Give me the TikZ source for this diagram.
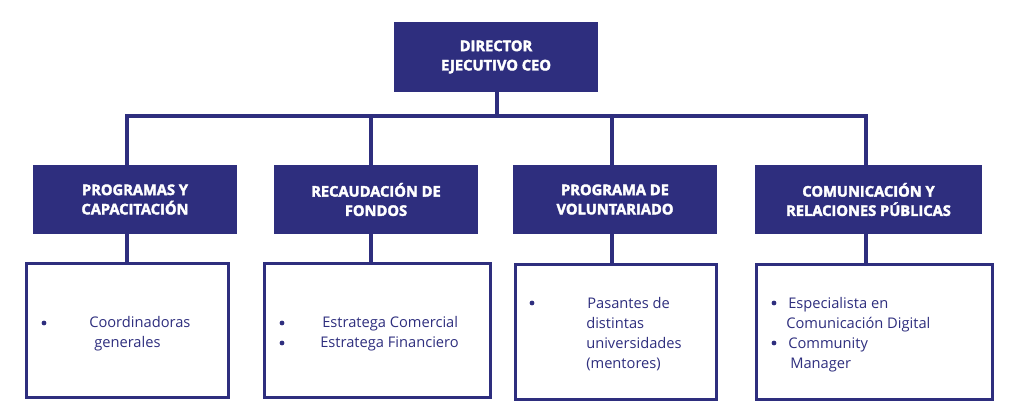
\documentclass[tikz,border=0pt]{standalone}
\usepackage{fontspec}
\setmainfont{Open Sans}
\newfontfamily\headfont{Open Sans}[BoldFeatures={FakeBold=2.5}]
\definecolor{navy}{HTML}{2E2E7E}
\begin{document}
\begin{tikzpicture}[x=0.75pt,y=-0.75pt,
  headbox/.style={fill=navy,draw=none,text=white,align=center,
    font=\headfont\bfseries\fontsize{11}{14.5}\selectfont,minimum height=52pt,inner sep=0pt},
  itembox/.style={draw=navy,line width=2.25pt,fill=white,minimum height=101pt,inner sep=0pt},
  conn/.style={draw=navy,line width=3pt},
  item/.style={anchor=base west,text=navy,inner sep=0pt,font=\fontsize{11}{15}\selectfont},
  bul/.style={circle,fill=navy,draw=none,inner sep=0pt,minimum size=3.6pt}]
\useasboundingbox[fill=white] (0,0) rectangle (1012,420);
% top
\node[headbox,minimum width=153pt] (ceo) at (496,57) {DIRECTOR\\EJECUTIVO CEO};
\coordinate (bus) at (497,116);
% columns
\coordinate (c1) at (127,116);
\coordinate (c2) at (371,116);
\coordinate (c3) at (612,116);
\coordinate (c4) at (866,116);
\node[headbox,minimum width=153pt] (p1) at (135,199.5) {PROGRAMAS Y\\CAPACITACIÓN};
\node[headbox,minimum width=153pt] (p2) at (376,199.5) {RECAUDACIÓN DE\\FONDOS};
\node[headbox,minimum width=153pt] (p3) at (615,199.5) {PROGRAMA DE\\VOLUNTARIADO};
\node[headbox,minimum width=170pt] (p4) at (868.5,199.5) {COMUNICACIÓN Y\\RELACIONES PÚBLICAS};
\node[itembox,minimum width=151.5pt] (d1) at (127,330.5) {};
\node[itembox,minimum width=169.5pt] (d2) at (377,330.5) {};
\node[itembox,minimum width=150.75pt] (d3) at (615.5,332) {};
\node[itembox,minimum width=177pt] (d4) at (874,332) {};
% connectors
\draw[conn] (ceo.south -| bus) -- (bus);
\draw[conn,line cap=rect] (c1) -- (c4);
\foreach \i in {1,2,3,4}{
  \draw[conn] (c\i) -- (c\i |- p\i.north);
  \draw[conn] (c\i |- p\i.south) -- (c\i |- d\i.north);
}
% items
\node[bul] (b11) at (44,323) {};
\node[item] (t11) at (89,327) {Coordinadoras};
\node[item] (t12) at (94,347) {generales};
\node[bul] (b21) at (282,323) {};
\node[bul] (b22) at (282,343) {};
\node[item] (t21) at (322,327) {Estratega Comercial};
\node[item] (t22) at (320,347) {Estratega Financiero};
\node[bul] (b31) at (532,303) {};
\node[item] (t31) at (587,308) {Pasantes de};
\node[item] (t32) at (586,328) {distintas};
\node[item] (t33) at (586,348) {universidades};
\node[item] (t34) at (586,368) {(mentores)};
\node[bul] (b41) at (774,303) {};
\node[bul] (b42) at (774,343) {};
\node[item] (t41) at (788,308) {Especialista en};
\node[item] (t42) at (786,328) {Comunicación Digital};
\node[item] (t43) at (788,348) {Community};
\node[item] (t44) at (790,368) {Manager};
\end{tikzpicture}
\end{document}
